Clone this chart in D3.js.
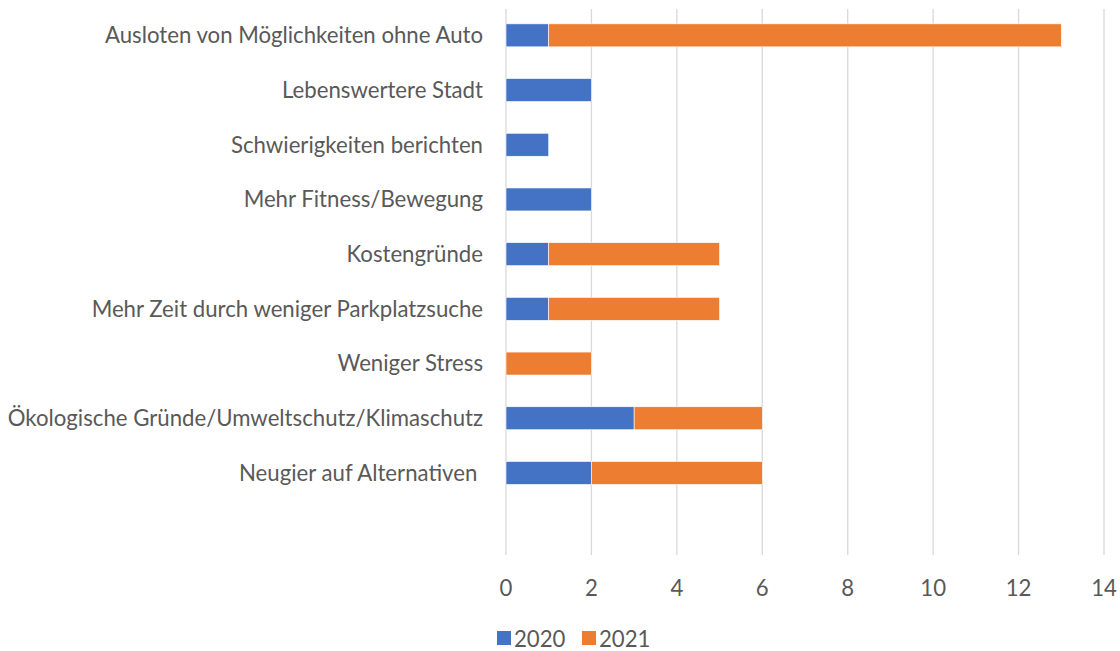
<!DOCTYPE html>
<html><head><meta charset="utf-8">
<script src="https://cdn.jsdelivr.net/npm/d3@7"></script>
<style>
body{margin:0;background:#fff;}
text{font-family:Lato,"Open Sans",sans-serif;fill:#595959;white-space:pre;}
</style></head>
<body><svg id="c" width="1120" height="651"></svg>
<script>
const categories = ["Ausloten von Möglichkeiten ohne Auto","Lebenswertere Stadt","Schwierigkeiten berichten","Mehr Fitness/Bewegung","Kostengründe","Mehr Zeit durch weniger Parkplatzsuche","Weniger Stress","Ökologische Gründe/Umweltschutz/Klimaschutz","Neugier auf Alternativen ",""];
const seriesNames = ["2020","2021"];
const values2020 = [1,2,1,2,1,1,0,3,2,0];
const values2021 = [12,0,0,0,4,4,2,3,4,0];
const xTicks = [0,2,4,6,8,10,12,14];
const colors = ["#4472C4","#ED7D31"];

const svg = d3.select("#c");
const x = d3.scaleLinear().domain([0,14]).range([506,1104]);
const y = d3.scaleBand().domain(categories).range([8,555]).paddingInner(0.58).paddingOuter(0.29);

svg.append("g").selectAll("line").data(xTicks).join("line")
  .attr("x1",d=>x(d)).attr("x2",d=>x(d)).attr("y1",9).attr("y2",555)
  .attr("stroke","#D9D9D9").attr("stroke-width",1.3);

const rows = categories.map((c,i)=>({c, v:[values2020[i], values2021[i]]}));
const stack = d3.stack().keys([0,1]).value((d,k)=>d.v[k])(rows);
svg.append("g").selectAll("g").data(stack).join("g").attr("fill",(d,i)=>colors[i])
  .selectAll("rect").data(d=>d.filter(s=>s[1]-s[0]>0)).join("rect")
  .attr("x",d=>x(d[0])).attr("width",d=>x(d[1])-x(d[0]))
  .attr("y",d=>y(d.data.c)).attr("height",y.bandwidth())
  .attr("stroke","#fff").attr("stroke-width",0.6);

svg.append("g").selectAll("text").data(categories).join("text")
  .attr("x",483).attr("y",d=>y(d)+y.bandwidth()/2).attr("dy","0.35em")
  .attr("text-anchor","end").attr("font-size",22.2).text(d=>d);

svg.append("g").selectAll("text").data(xTicks).join("text")
  .attr("x",d=>x(d)).attr("y",588).attr("dy","0.35em")
  .attr("text-anchor","middle").attr("font-size",22.2).text(d=>d);

const leg = svg.append("g");
const legX = [497,582];
seriesNames.forEach((s,i)=>{
  leg.append("rect").attr("x",legX[i]).attr("y",631).attr("width",14).attr("height",14).attr("fill",colors[i]);
  leg.append("text").attr("x",legX[i]+17).attr("y",639).attr("dy","0.35em").attr("font-size",22.2).text(s);
});
</script></body></html>
